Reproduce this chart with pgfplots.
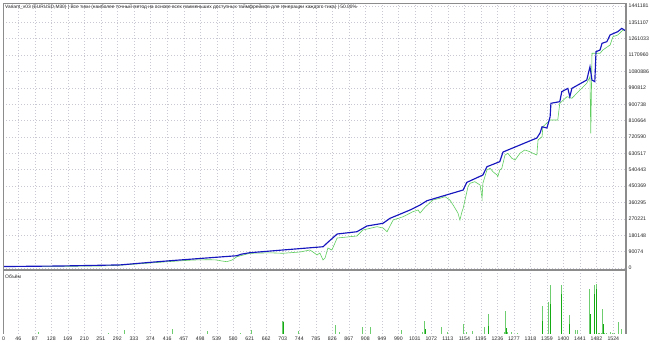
\documentclass[border=0pt]{standalone}
\usepackage{fontspec}
\setmainfont{Liberation Sans}
\usepackage{pgfplots}
\pgfplotsset{compat=1.18}
\usepackage{pgfplotstable}
\definecolor{bal}{RGB}{22,22,190}
\definecolor{eq}{RGB}{95,205,95}
\definecolor{vol}{RGB}{110,205,110}
\definecolor{vold}{RGB}{20,170,20}
\definecolor{framec}{RGB}{140,140,140}
\definecolor{gridc}{RGB}{200,200,210}

\pgfplotstableread{
t v
8 8000
150 11000
299 17000
373 31000
423 40000
480 49500
589 67500
600 76000
621 84000
703 99000
803 117000
813 137500
838 187000
887 199500
912 231000
952 246000
969 273000
1019 319000
1044 346500
1061 370000
1151 429000
1160 471000
1200 511500
1210 557000
1242 585000
1250 638000
1334 715000
1342 742500
1347 777000
1359 770000
1367 832000
1369 906000
1391 915000
1396 970000
1411 988000
1416 942000
1421 988000
1458 1034000
1466 1107000
1471 1034000
1478 1025000
1481 1190000
1491 1199000
1496 1236000
1508 1245000
1516 1282000
1535 1300000
1545 1318000
1555 1304000
}\balance

\pgfplotstableread{
t v
8 8000
150 9000
249 11000
299 15400
373 27500
423 35700
480 44000
522 45600
539 44000
552 38500
564 34600
577 44000
589 62200
621 80900
671 83600
703 80900
746 88000
770 99000
778 88000
788 71500
795 82500
803 44000
808 55000
815 110000
825 99000
838 165000
870 172200
887 176000
902 209000
937 227200
952 220000
962 199700
977 264000
1002 282200
1026 309700
1039 319000
1044 302500
1056 333900
1076 374000
1093 383400
1106 392200
1118 374000
1126 346500
1131 328400
1138 302500
1143 264000
1148 309700
1151 328400
1163 447200
1168 465900
1180 474700
1193 456600
1198 383400
1200 465900
1210 539100
1218 548400
1225 529700
1235 511600
1237 502200
1242 539100
1247 548400
1255 621600
1262 630900
1272 603400
1280 594100
1292 630900
1304 649100
1317 639700
1324 630900
1334 621600
1337 704100
1347 722200
1349 777200
1367 814100
1386 814100
1391 906000
1409 942300
1421 933500
1441 979100
1458 1016000
1466 1052300
1468 740900
1471 1181000
1491 1181000
1498 1199200
1516 1226700
1523 1272300
1535 1281700
1548 1309200
1555 1303700
}\equity

\pgfplotstableread{
t h
97 2
269 1
311 4
430 5
517 3
597 1
626 4
703 13
743 3
833 9
845 2
902 7
922 7
999 4
1049 2
1056 13
1096 7
1111 2
1151 10
1160 2
1173 3
1205 7
1213 20
1253 2
1257 23
1262 2
1272 2
1285 1
1347 28
1364 32
1367 49
1396 49
1414 19
1429 4
1436 4
1466 45
1476 49
1481 50
1486 1
1490 1
1494 1
1498 25
1503 1
1508 1
1516 2
1522 1
1528 1
1536 12
1545 5
}\volume

\pgfplotstableread{
t h
703 12
1056 5
1213 8
1257 6
1347 13
1367 30
1396 40
1414 10
1466 20
1476 40
1481 45
1498 10
}\volumedark

\pgfplotsset{
  common/.style={
    scale only axis, width=623pt, anchor=south west,
    xmin=8, xmax=1555.5,
    axis line style={draw=none},
    tick style={draw=none},
    major tick length=0pt,
    xtick={46,87,128,169,210,251,292,333,374,416,457,498,539,580,621,662,703,744,785,826,867,908,949,990,1031,1072,1113,1154,1195,1236,1277,1318,1359,1400,1441,1482,1524},
    xmajorgrids,
    grid style={draw=gridc, line width=0.5pt, dash pattern=on 1pt off 2pt},
    clip=true,
  }
}

\begin{document}
\begin{tikzpicture}
\begin{axis}[common, name=top,
  at={(3pt,75pt)}, height=267pt,
  ymin=-11000, ymax=1457700,
  xticklabels={},
  ytick={0,90074,180148,270221,360295,450369,540443,630517,720590,810664,900738,990812,1080886,1170960,1261033,1351107,1441181},
  yticklabels={0,90074,180148,270221,360295,450369,540443,630517,720590,810664,900738,990812,1080886,1170960,1261033,1351107,1441181},
  ymajorgrids,
  yticklabel pos=right,
  yticklabel style={font=\fontsize{5.2}{6}\selectfont, anchor=west, inner sep=0pt, xshift=2.5pt, text=black!85},
]
\addplot[eq, line width=0.6pt] table[x=t,y=v] {\equity};
\addplot[bal, line width=1.15pt] table[x=t,y=v] {\balance};
\node[anchor=north west, inner sep=0pt, font=\fontsize{4.85}{6}\selectfont, text=black!85] at (rel axis cs:0,1) [xshift=2pt,yshift=-2pt]
  {Variant\_v03 (EURUSD,M30) | Все тики (наиболее точный метод на основе всех наименьших доступных таймфреймов для генерации каждого тика) | 50.00\%};
\end{axis}
\begin{axis}[common, name=vol,
  at={(3pt,11pt)}, height=61pt,
  ymin=0, ymax=61,
  ytick=\empty,
  xticklabels={46,87,128,169,210,251,292,333,374,416,457,498,539,580,621,662,703,744,785,826,867,908,949,990,1031,1072,1113,1154,1195,1236,1277,1318,1359,1400,1441,1482,1524},
  extra x ticks={8}, extra x tick labels={0},
  extra x tick style={grid=none, xticklabel style={anchor=north west, xshift=-1pt}},
  xticklabel style={font=\fontsize{5.2}{6}\selectfont, inner sep=0pt, yshift=-3pt, text=black!85},
]
\addplot[vol, line width=1pt, ycomb, mark=none] table[x=t,y=h] {\volume};
\addplot[vold, line width=0.6pt, ycomb, mark=none] table[x=t,y=h] {\volumedark};
\node[anchor=north west, inner sep=0pt, font=\fontsize{5}{6}\selectfont, text=black!85] at (rel axis cs:0,1) [xshift=2pt,yshift=-1.5pt] {Объём};
\end{axis}
% panel frames
\draw[framec, line width=0.6pt] (vol.south west) -- (top.north west) -- (top.north east);
\draw[framec, line width=1.6pt] (vol.south east) -- (top.north east);
\draw[framec, line width=1.6pt] (top.south west) -- (top.south east);
\pgfresetboundingbox
\path (0pt,0pt) rectangle (650pt,345pt);
\end{tikzpicture}
\end{document}
